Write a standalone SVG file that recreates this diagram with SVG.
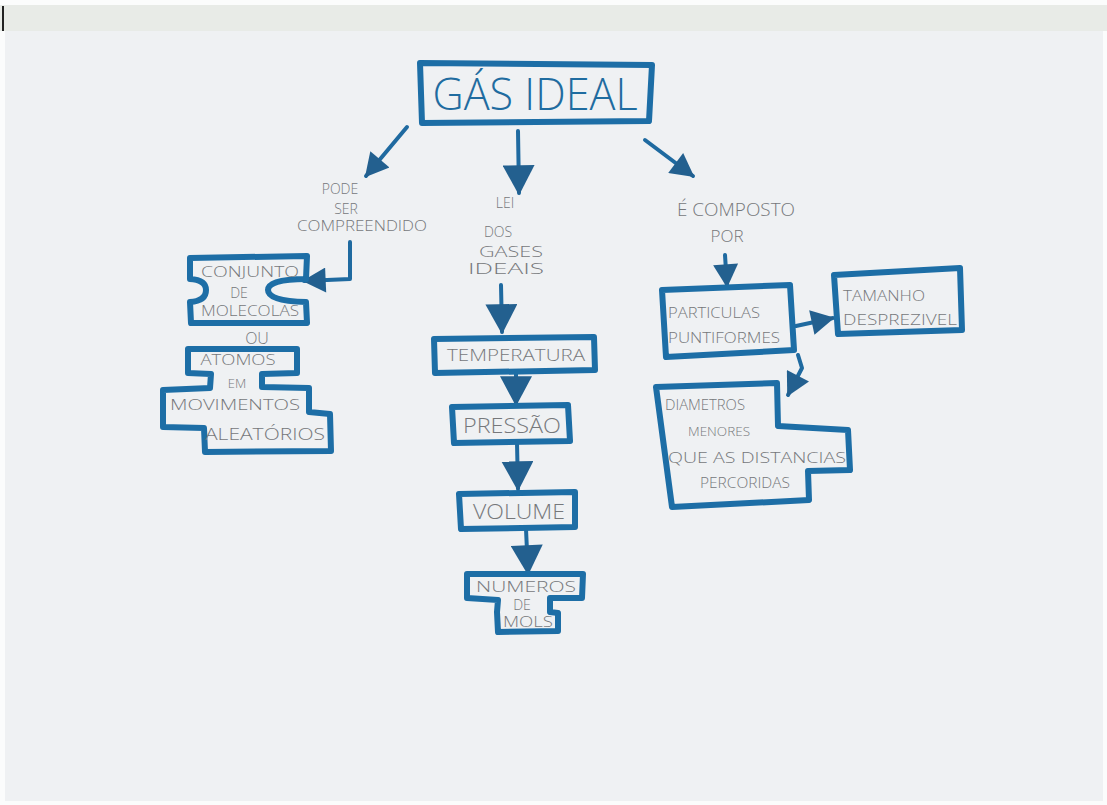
<svg xmlns="http://www.w3.org/2000/svg" width="1107" height="805" viewBox="0 0 1107 805">
<defs>
<style>
.box{fill:none;stroke:#1d6ea6;stroke-width:6;stroke-linejoin:round;stroke-linecap:round}
.ln{fill:none;stroke:#1f6aa0;stroke-width:4;stroke-linecap:round;stroke-linejoin:round}
.pen{font-family:"Open Sans","Liberation Sans",Arial,sans-serif;font-weight:300;fill:#76787b;text-anchor:middle}
.ink{font-family:"Open Sans","Liberation Sans",Arial,sans-serif;font-weight:300;fill:#1f6ca0;text-anchor:middle}
</style>
<marker id="ah" markerUnits="userSpaceOnUse" markerWidth="32" markerHeight="32" viewBox="0 0 28 30" refX="26" refY="15" orient="auto">
<path d="M0,0 L28,15 L0,30 Z" fill="#23608f"/>
</marker>
<marker id="ahs" markerUnits="userSpaceOnUse" markerWidth="25" markerHeight="25" viewBox="0 0 28 30" refX="26" refY="15" orient="auto">
<path d="M0,0 L28,15 L0,30 Z" fill="#23608f"/>
</marker>
</defs>
<rect width="1107" height="805" fill="#fbfcfc"/>
<rect x="0" y="5" width="1107" height="26" fill="#e8ebe7"/>
<rect x="5" y="31" width="1098" height="770" fill="#eff1f3"/>
<rect x="2" y="6" width="2" height="25" fill="#222"/>

<g id="connectors">
<line class="ln" x1="407" y1="127" x2="366" y2="176" marker-end="url(#ahs)"/>
<line class="ln" x1="518" y1="131" x2="519" y2="193" marker-end="url(#ah)"/>
<line class="ln" x1="645" y1="140" x2="693" y2="176" marker-end="url(#ahs)"/>
<polyline class="ln" points="350,242 350,279 304,281" marker-end="url(#ahs)"/>
<line class="ln" x1="501" y1="285" x2="502" y2="332" marker-end="url(#ah)"/>
<line class="ln" x1="516" y1="373" x2="516" y2="404" marker-end="url(#ah)"/>
<line class="ln" x1="517" y1="443" x2="518" y2="489" marker-end="url(#ah)"/>
<line class="ln" x1="526" y1="529" x2="528" y2="573" marker-end="url(#ah)"/>
<line class="ln" x1="725" y1="255" x2="727" y2="286" marker-end="url(#ahs)"/>
<line class="ln" x1="796" y1="326" x2="833" y2="318" marker-end="url(#ahs)"/>
<polyline class="ln" points="798,355 802,368 788,395" marker-end="url(#ahs)"/>
</g>

<g id="labels">
<text class="pen" x="340" y="194" font-size="14">PODE</text>
<text class="pen" x="346" y="214" font-size="14">SER</text>
<text class="pen" x="362" y="231" font-size="14" textLength="130" lengthAdjust="spacingAndGlyphs">COMPREENDIDO</text>
<text class="pen" x="505" y="208" font-size="14">LEI</text>
<text class="pen" x="498" y="237" font-size="14">DOS</text>
<text class="pen" x="511" y="257" font-size="14" textLength="64" lengthAdjust="spacingAndGlyphs">GASES</text>
<text class="pen" x="506" y="274" font-size="14" textLength="76" lengthAdjust="spacingAndGlyphs">IDEAIS</text>
<text class="pen" x="736" y="216" font-size="18" textLength="118" lengthAdjust="spacingAndGlyphs">É COMPOSTO</text>
<text class="pen" x="727" y="242" font-size="17">POR</text>
<text class="pen" x="257" y="344" font-size="16">OU</text>
</g>

<g id="gas-ideal">
<polygon class="box" points="420,63 652,65 649,121 422,123"/>
<text class="ink" x="535" y="110" font-size="44" textLength="205" lengthAdjust="spacingAndGlyphs">GÁS IDEAL</text>
</g>

<g id="conjunto-moleculas">
<path class="box" d="M190,258 L307,256 L306,279 Q268,279 268,290 Q268,301 306,302 L307,323 L191,323 L190,302 Q206,301 206,290 Q206,280 190,279 Z"/>
<text class="pen" x="250" y="277" font-size="14" textLength="98" lengthAdjust="spacingAndGlyphs">CONJUNTO</text>
<text class="pen" x="239" y="298" font-size="14">DE</text>
<text class="pen" x="250" y="316" font-size="14" textLength="98" lengthAdjust="spacingAndGlyphs">MOLECOLAS</text>
</g>

<g id="atomos">
<path class="box" d="M188,349 L297,349 L297,373 L262,374 L262,387 L309,388 L309,412 L330,414 L331,451 L205,452 L204,428 L163,427 L163,390 L210,388 L211,374 L188,373 Z"/>
<text class="pen" x="238" y="365" font-size="15" textLength="75" lengthAdjust="spacingAndGlyphs">ATOMOS</text>
<text class="pen" x="237" y="388" font-size="13">EM</text>
<text class="pen" x="235" y="410" font-size="15" textLength="130" lengthAdjust="spacingAndGlyphs">MOVIMENTOS</text>
<text class="pen" x="265" y="440" font-size="17" textLength="120" lengthAdjust="spacingAndGlyphs">ALEATÓRIOS</text>
</g>

<g id="temperatura">
<polygon class="box" points="434,339 594,337 595,370 435,373"/>
<text class="pen" x="516" y="361" font-size="16" textLength="138" lengthAdjust="spacingAndGlyphs">TEMPERATURA</text>
</g>

<g id="pressao">
<polygon class="box" points="452,407 568,405 570,441 454,443"/>
<text class="pen" x="512" y="433" font-size="20" textLength="98" lengthAdjust="spacingAndGlyphs">PRESSÃO</text>
</g>

<g id="volume">
<polygon class="box" points="459,494 575,492 575,527 461,529"/>
<text class="pen" x="519" y="519" font-size="20" textLength="92" lengthAdjust="spacingAndGlyphs">VOLUME</text>
</g>

<g id="numeros-mols">
<path class="box" d="M467,574 L583,574 L582,598 L550,598 L550,612 L558,613 L558,631 L498,632 L497,612 L498,600 L467,598 Z"/>
<text class="pen" x="526" y="592" font-size="14" textLength="100" lengthAdjust="spacingAndGlyphs">NUMEROS</text>
<text class="pen" x="522" y="610" font-size="14">DE</text>
<text class="pen" x="528" y="627" font-size="14" textLength="50" lengthAdjust="spacingAndGlyphs">MOLS</text>
</g>

<g id="particulas">
<polygon class="box" points="662,290 790,285 794,350 666,357"/>
<text class="pen" x="714" y="318" font-size="14" textLength="92" lengthAdjust="spacingAndGlyphs">PARTICULAS</text>
<text class="pen" x="724" y="343" font-size="14" textLength="112" lengthAdjust="spacingAndGlyphs">PUNTIFORMES</text>
</g>

<g id="tamanho">
<polygon class="box" points="834,275 960,268 962,330 838,334"/>
<text class="pen" x="884" y="301" font-size="15" textLength="82" lengthAdjust="spacingAndGlyphs">TAMANHO</text>
<text class="pen" x="900" y="325" font-size="14" textLength="114" lengthAdjust="spacingAndGlyphs">DESPREZIVEL</text>
</g>

<g id="diametros">
<polygon class="box" points="656,387 777,383 778,426 848,430 850,470 808,471 809,500 672,507"/>
<text class="pen" x="705" y="410" font-size="14" textLength="80" lengthAdjust="spacingAndGlyphs">DIAMETROS</text>
<text class="pen" x="719" y="436" font-size="13" textLength="62" lengthAdjust="spacingAndGlyphs">MENORES</text>
<text class="pen" x="757" y="463" font-size="14" textLength="178" lengthAdjust="spacingAndGlyphs">QUE AS DISTANCIAS</text>
<text class="pen" x="745" y="488" font-size="14" textLength="90" lengthAdjust="spacingAndGlyphs">PERCORIDAS</text>
</g>
</svg>
